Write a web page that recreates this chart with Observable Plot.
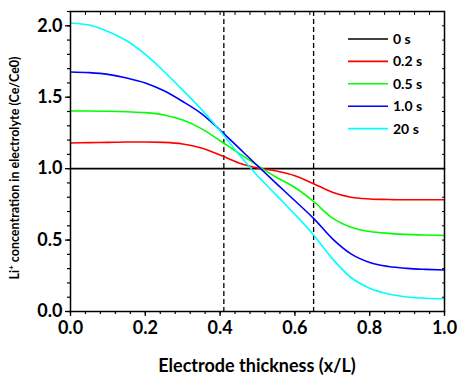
<!DOCTYPE html>
<html><head><meta charset="utf-8">
<script src="https://cdn.jsdelivr.net/npm/d3@7"></script>
<script src="https://cdn.jsdelivr.net/npm/@observablehq/plot@0.6"></script>
<style>
body{margin:0;background:#fff;}
#chart{position:relative;width:459px;height:376px;}
svg{font-family:Lato,"Open Sans",sans-serif;}
</style></head>
<body><div id="chart"></div>
<script>
const xs = [0,0.05,0.1,0.15,0.2,0.25,0.3,0.35,0.4,0.45,0.5,0.55,0.6,0.65,0.7,0.75,0.8,0.85,0.9,0.95,1.0];
const seriesNames = ["0 s","0.2 s","0.5 s","1.0 s","20 s"];
const seriesColors = ["#000000","#ff0000","#00ff00","#0000ff","#00ffff"];
const s0   = [1,1,1,1,1,1,1,1,1,1,1,1,1,1,1,1,1,1,1,1,1];
const s02  = [1.18,1.182,1.184,1.186,1.187,1.184,1.173,1.145,1.095,1.04,1.005,0.983,0.95,0.895,0.835,0.80,0.788,0.784,0.782,0.782,0.782];
const s05  = [1.404,1.404,1.402,1.398,1.392,1.376,1.34,1.28,1.195,1.108,1.022,0.94,0.868,0.77,0.655,0.59,0.56,0.547,0.54,0.535,0.533];
const s10  = [1.677,1.672,1.66,1.635,1.60,1.545,1.47,1.385,1.27,1.145,1.02,0.897,0.775,0.652,0.51,0.403,0.343,0.315,0.302,0.295,0.29];
const s20  = [2.02,2.005,1.96,1.895,1.80,1.68,1.55,1.415,1.266,1.10,0.95,0.815,0.68,0.536,0.37,0.238,0.163,0.123,0.102,0.093,0.089];
const separatorBounds = [0.41, 0.65];
const xTicks = [0,0.2,0.4,0.6,0.8,1.0];
const yTicks = [0,0.5,1.0,1.5,2.0];

const allSeries = [s0,s02,s05,s10,s20];
const data = [];
allSeries.forEach((arr,i)=>arr.forEach((v,j)=>data.push({x:xs[j], y:v, s:seriesNames[i]})));

const xMinor = d3.range(0,1.0001,0.04);
const yMinor = d3.range(0,2.1001,0.1);
const noText = () => "";

const plot = Plot.plot({
  width:459, height:376,
  marginLeft:70, marginRight:15, marginTop:11, marginBottom:65,
  x:{domain:[0,1]},
  y:{domain:[0,2.1]},
  color:{domain:seriesNames, range:seriesColors},
  style:{fontFamily:"Lato, 'Open Sans', sans-serif", color:"#000"},
  marks:[
    Plot.ruleX(separatorBounds,{stroke:"#000",strokeWidth:1.3,strokeDasharray:"5,3"}),
    Plot.line(data,{x:"x",y:"y",stroke:"s",z:"s",strokeWidth:1.6,curve:"monotone-x"}),
    Plot.axisX(xMinor,{tickSize:3,tickFormat:noText,label:null,strokeWidth:1.2}),
    Plot.axisY(yMinor,{tickSize:3,tickFormat:noText,label:null,strokeWidth:1.2}),
    Plot.axisX(xMinor,{anchor:"top",tickSize:-3,tickFormat:noText,label:null,strokeWidth:1}),
    Plot.axisY(yMinor,{anchor:"right",tickSize:-3,tickFormat:noText,label:null,strokeWidth:1}),
    Plot.axisX(xTicks,{tickSize:5,tickPadding:5,strokeWidth:1.3,tickFormat:d=>d.toFixed(1),fontSize:18,fontWeight:"bold",label:null}),
    Plot.axisY(yTicks,{tickSize:5,tickPadding:3,strokeWidth:1.3,tickFormat:d=>d.toFixed(1),fontSize:18,fontWeight:"bold",label:null}),
    Plot.frame({stroke:"#000",strokeWidth:1.5})
  ]
});
document.getElementById("chart").appendChild(plot);

const svg = d3.select(plot);
// axis titles
svg.append("text").attr("x",257).attr("y",372).attr("text-anchor","middle")
  .attr("font-size",18).attr("font-weight","bold").attr("fill","#000")
  .text("Electrode thickness (x/L)");
const yl = svg.append("text").attr("transform","translate(19,168) rotate(-90)").attr("text-anchor","middle")
  .attr("font-size",12.5).attr("font-weight","bold").attr("fill","#000");
yl.append("tspan").text("Li");
yl.append("tspan").attr("font-size",8).attr("dy",-5).text("+");
yl.append("tspan").attr("dy",5).text(" concentration in electrolyte (Ce/Ce0)");

// legend
const lg = svg.append("g").attr("text-anchor","start");
seriesNames.forEach((n,i)=>{
  const y = 39 + i*22.4;
  lg.append("line").attr("x1",348).attr("x2",388).attr("y1",y).attr("y2",y)
    .attr("stroke",seriesColors[i]).attr("stroke-width",1.6);
  lg.append("text").attr("x",393).attr("y",y+5).attr("font-size",14).attr("font-weight","bold")
    .attr("text-anchor","start").attr("fill","#000").text(n);
});
</script></body></html>
